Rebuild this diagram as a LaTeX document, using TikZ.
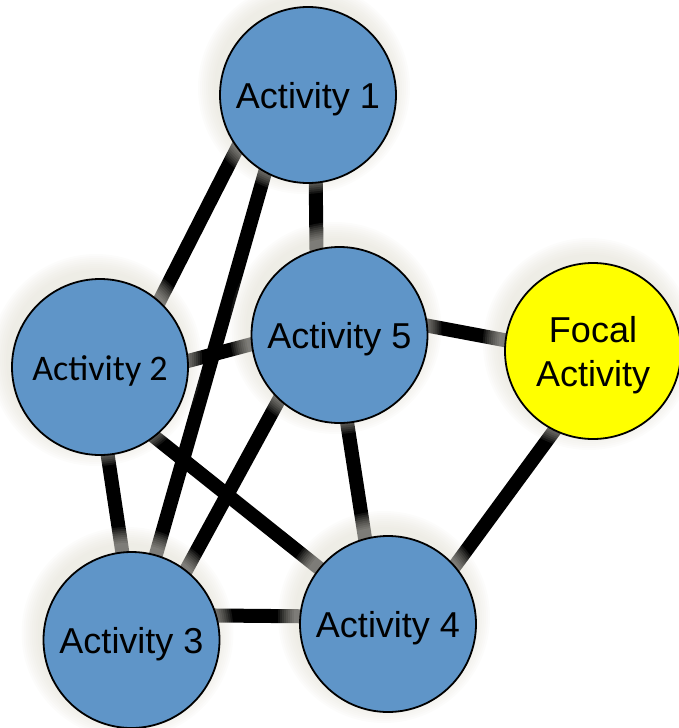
\documentclass[tikz,border=0pt]{standalone}
\usepackage{fontspec}
\setmainfont{Liberation Sans}
\newfontfamily\calfont{Carlito}
\pgfdeclarelayer{background}
\pgfsetlayers{background,main}
\definecolor{actblue}{RGB}{95,149,200}
\definecolor{focalyellow}{RGB}{255,255,0}
\definecolor{glowtint}{RGB}{226,223,212}
\begin{document}
\begin{tikzpicture}[x=1pt,y=-1pt,
  activity/.style={circle, draw=black, line width=1.8pt, fill=actblue,
    minimum size=176pt, inner sep=0pt,
    font=\fontsize{36}{44}\selectfont, text height=26pt, text depth=0pt},
  focal/.style={activity, fill=focalyellow, text height=, text depth=},
  link/.style={line width=14pt, black, shorten <=-6pt, shorten >=-6pt},
  halo/.style={fill=glowtint, opacity=0.09}]
\useasboundingbox (0,0) rectangle (678,728);

% activities
\node[activity] (a1) at (308,95)    {Activity 1};
\node[activity, font=\calfont\fontsize{36}{44}\selectfont] (a2) at (100,367) {Activity 2};
\node[activity] (a5) at (339.5,335) {Activity 5};
\node[activity] (a3) at (131.5,640) {Activity 3};
\node[activity] (a4) at (388,624)   {Activity 4};
\node[focal]    (f)  at (593,351)
  {\raisebox{0pt}[\dimexpr\height+10pt\relax][\depth]{\begin{tabular}{@{}c@{}}Focal\\Activity\end{tabular}}};

\begin{pgfonlayer}{background}
  % connections
  \draw[link] (a1.217) -- (a2.48);
  \draw[link] (a1.241) -- (a3.74);
  \draw[link] (a1.275) -- (a5.105);
  \draw[link] (a2.4)   -- (a5.186);
  \draw[link] (a2.275) -- (a3.96);
  \draw[link] (a2.308) -- (a4.141);
  \draw[link] (a5.227) -- (a3.52);
  \draw[link] (a5.275) -- (a4.105);
  \draw[link] (a5.6)   -- (f.173);
  \draw[link] (f.244)  -- (a4.41);
  \draw[link] (a3.16)  -- (a4.175);
  % soft glow around each circle
  \foreach \n in {a1,a2,a3,a4,a5,f} {
    \foreach \k in {2,4,...,18} {
      \fill[halo] ([shift={(-4,-7)}]\n.center) circle[radius={88pt+\k pt}];
    }
  }
\end{pgfonlayer}
\end{tikzpicture}
\end{document}
